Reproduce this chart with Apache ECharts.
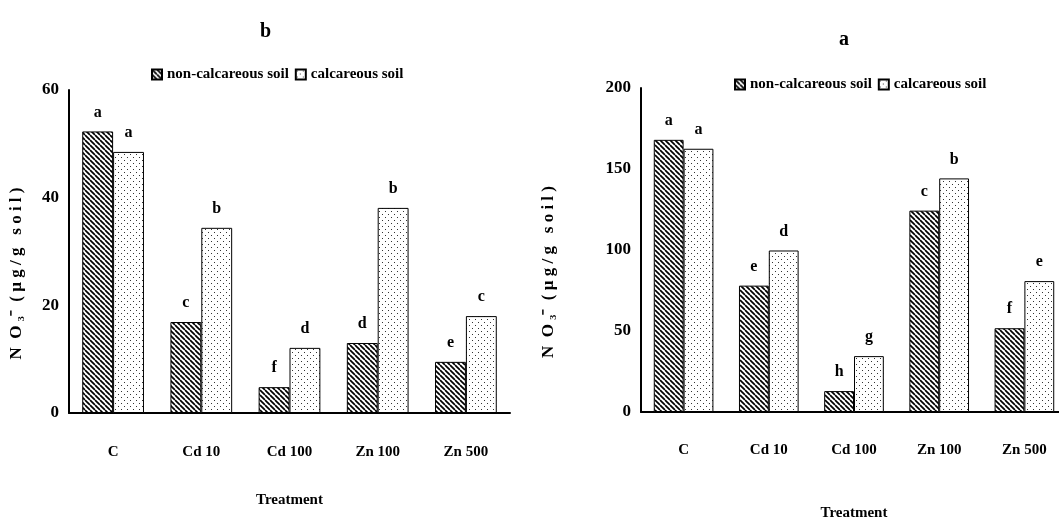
<!DOCTYPE html>
<html lang="en">
<head>
    <meta charset="UTF-8">
    <title>NO3 by treatment</title>
    <script src="https://cdn.jsdelivr.net/npm/echarts@6/dist/echarts.min.js"></script>
    <style>
        html, body { margin: 0; padding: 0; background: #fff; }
        #chart { width: 1059px; height: 520px; }
    </style>
</head>
<body>
    <div id="chart"></div>
    <script>
        // data
        const treatments = ['C', 'Cd 10', 'Cd 100', 'Zn 100', 'Zn 500'];
        const seriesNames = ['non-calcareous soil', 'calcareous soil'];

        // panel b (left)
        const nonCalcB = [52.3, 16.9, 4.8, 13.0, 9.5];
        const calcB = [48.5, 34.4, 12.1, 38.1, 18.0];
        const nonCalcBLetters = ['a', 'c', 'f', 'd', 'e'];
        const calcBLetters = ['a', 'b', 'd', 'b', 'c'];

        // panel a (right)
        const nonCalcA = [168, 78, 12.9, 124.3, 51.7];
        const calcA = [162.5, 99.7, 34.5, 144.2, 80.8];
        const nonCalcALetters = ['a', 'e', 'h', 'c', 'f'];
        const calcALetters = ['a', 'd', 'g', 'b', 'e'];

        const FONT = "'Liberation Serif', 'Times New Roman', serif";

        // fill patterns
        function stripes() {
            const s = 5;
            const c = document.createElement('canvas');
            c.width = s; c.height = s;
            const g = c.getContext('2d');
            g.fillStyle = '#fff';
            g.fillRect(0, 0, s, s);
            g.strokeStyle = '#000';
            g.lineWidth = 1.7;
            for (let o = -s; o <= s; o += s) {
                g.beginPath();
                g.moveTo(o, 0);
                g.lineTo(o + s, s);
                g.stroke();
            }
            return c;
        }
        function dots() {
            const c = document.createElement('canvas');
            c.width = 6; c.height = 6;
            const g = c.getContext('2d');
            g.fillStyle = '#fff';
            g.fillRect(0, 0, 6, 6);
            g.fillStyle = '#333';
            g.fillRect(1, 1, 1, 1);
            g.fillRect(4, 4, 1, 1);
            return c;
        }
        const stripeFill = { image: stripes(), repeat: 'repeat' };
        const dotFill = { image: dots(), repeat: 'repeat' };

        function withLetters(values, letters) {
            return values.map((v, i) => ({ value: v, label: { formatter: letters[i] } }));
        }

        function barSeries(name, idx, values, letters, fill) {
            return {
                name: name,
                type: 'bar',
                xAxisIndex: idx,
                yAxisIndex: idx,
                barGap: '0%',
                barCategoryGap: '30%',
                itemStyle: { color: fill, borderColor: '#000', borderWidth: 1 },
                label: {
                    show: true,
                    position: 'top',
                    distance: 11,
                    fontFamily: FONT,
                    fontWeight: 'bold',
                    fontSize: 16,
                    color: '#000'
                },
                emphasis: { disabled: true },
                data: withLetters(values, letters)
            };
        }

        function xAxis(idx, margin, gap) {
            return {
                type: 'category',
                gridIndex: idx,
                data: treatments,
                axisLine: { lineStyle: { color: '#000', width: 2 } },
                axisTick: { show: false },
                axisLabel: { margin: margin, fontFamily: FONT, fontWeight: 'bold', fontSize: 15, color: '#000' },
                name: 'Treatment',
                nameLocation: 'middle',
                nameGap: gap,
                nameTextStyle: { fontFamily: FONT, fontWeight: 'bold', fontSize: 15, color: '#000' }
            };
        }

        function yAxis(idx, max, interval, gap) {
            return {
                type: 'value',
                gridIndex: idx,
                min: 0,
                max: max,
                interval: interval,
                splitLine: { show: false },
                axisLine: { show: true, lineStyle: { color: '#000', width: 2 } },
                axisTick: { show: false },
                axisLabel: { margin: 10, fontFamily: FONT, fontWeight: 'bold', fontSize: 17, color: '#000' },
                name: 'N  O \u2083\u207B  ( \u00B5 g / g   s o i l )',
                nameLocation: 'middle',
                nameGap: gap,
                nameTextStyle: {
                    fontFamily: FONT, fontWeight: 'bold', fontSize: 17, color: '#000',
                    padding: [0, 44, 0, 0]
                }
            };
        }

        const legendText = { fontFamily: FONT, fontWeight: 'bold', fontSize: 15, color: '#000' };

        const chart = echarts.init(document.getElementById('chart'));
        chart.setOption({
            animation: false,
            title: [
                { text: 'b', left: 255, top: 17, textStyle: { fontFamily: FONT, fontWeight: 'bold', fontSize: 20, color: '#000' } },
                { text: 'a', left: 834, top: 25, textStyle: { fontFamily: FONT, fontWeight: 'bold', fontSize: 20, color: '#000' } }
            ],
            legend: [
                {
                    data: seriesNames, left: 146, top: 62, icon: 'rect', itemWidth: 10, itemHeight: 10, itemGap: 6,
                    selectedMode: false, textStyle: legendText
                },
                {
                    data: seriesNames, left: 729, top: 72, icon: 'rect', itemWidth: 10, itemHeight: 10, itemGap: 6,
                    selectedMode: false, textStyle: legendText
                }
            ],
            grid: [
                { left: 69, top: 90, width: 441, height: 323, outerBoundsMode: 'none' },
                { left: 641, top: 88, width: 426, height: 324, outerBoundsMode: 'none' }
            ],
            xAxis: [xAxis(0, 32, 80), xAxis(1, 31, 94)],
            yAxis: [yAxis(0, 60, 20, 44), yAxis(1, 200, 50, 84)],
            series: [
                barSeries(seriesNames[0], 0, nonCalcB, nonCalcBLetters, stripeFill),
                barSeries(seriesNames[1], 0, calcB, calcBLetters, dotFill),
                barSeries(seriesNames[0], 1, nonCalcA, nonCalcALetters, stripeFill),
                barSeries(seriesNames[1], 1, calcA, calcALetters, dotFill)
            ]
        });
    </script>
</body>
</html>
